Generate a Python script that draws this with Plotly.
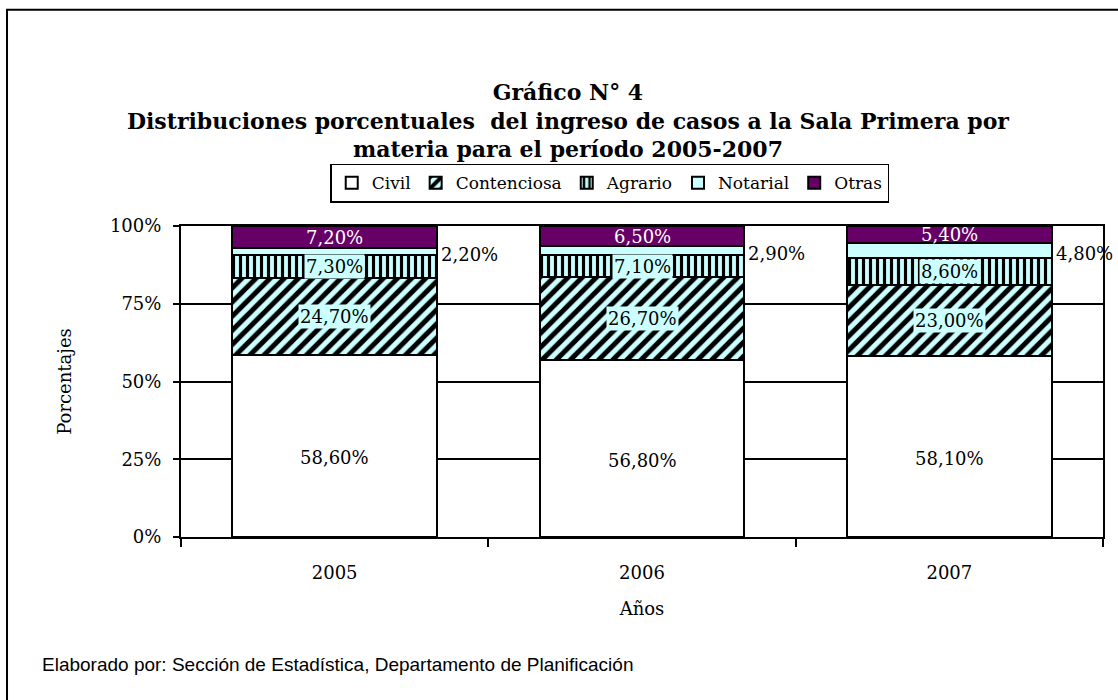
import plotly.graph_objects as go

# Datos del gráfico (porcentajes)
years = ["2005", "2006", "2007"]
civil = [58.6, 56.8, 58.1]
contenciosa = [24.7, 26.7, 23.0]
agrario = [7.3, 7.1, 8.6]
notarial = [2.2, 2.9, 4.8]
otras = [7.2, 6.5, 5.4]

y_ticks = [0, 25, 50, 75, 100]
y_ticktext = ["0%", "25%", "50%", "75%", "100%"]

serif = "DejaVu Serif, serif"
cyan = "#CCFFFF"
purple = "#660066"


def pct(v):
  return "{:.2f}%".format(v).replace(".", ",")


fig = go.Figure()
outline = dict(color="black", width=2)

fig.add_trace(go.Bar(x=years, y=civil, name="Civil",
    marker=dict(color="white", line=outline)))
fig.add_trace(go.Bar(x=years, y=contenciosa, name="Contenciosa",
    marker=dict(color=cyan, line=outline,
                pattern=dict(shape="/", fgcolor="black", fgopacity=1, bgcolor=cyan, size=10, solidity=0.5))))
fig.add_trace(go.Bar(x=years, y=agrario, name="Agrario",
    marker=dict(color=cyan, line=outline,
                pattern=dict(shape="|", fgcolor="black", fgopacity=1, bgcolor=cyan, size=7, solidity=0.45))))
fig.add_trace(go.Bar(x=years, y=notarial, name="Notarial",
    marker=dict(color=cyan, line=outline)))
fig.add_trace(go.Bar(x=years, y=otras, name="Otras",
    marker=dict(color=purple, line=outline)))

# Etiquetas de datos (x numérico = posición de la categoría)
annotations = []
lab_font = dict(family=serif, size=18, color="black")
for i, yr in enumerate(years):
  b0 = civil[i]
  b1 = b0 + contenciosa[i]
  b2 = b1 + agrario[i]
  b3 = b2 + notarial[i]
  annotations.append(dict(xref="x", yref="y", x=i, y=civil[i] / 2, text=pct(civil[i]),
      showarrow=False, font=lab_font, yshift=-12))
  annotations.append(dict(xref="x", yref="y", x=i, y=b0 + contenciosa[i] / 2, text=pct(contenciosa[i]),
      showarrow=False, font=lab_font, bgcolor=cyan))
  annotations.append(dict(xref="x", yref="y", x=i, y=b1 + agrario[i] / 2, text=pct(agrario[i]),
      showarrow=False, font=lab_font, bgcolor=cyan))
  annotations.append(dict(xref="x", yref="y", x=i + 0.34, y=b2 + notarial[i] / 2, text=pct(notarial[i]),
      showarrow=False, font=lab_font, xanchor="left", yshift=-3))
  annotations.append(dict(xref="x", yref="y", x=i, y=b3 + otras[i] / 2, text=pct(otras[i]),
      showarrow=False, font=dict(family=serif, size=18, color="white")))

annotations.append(dict(xref="paper", yref="paper", x=-0.153, y=-0.41, xanchor="left", yanchor="middle",
    text="Elaborado por: Sección de Estadística, Departamento de Planificación", showarrow=False,
    font=dict(family="Liberation Sans, Arial, sans-serif", size=19, color="black")))

fig.update_layout(
    barmode="stack",
    bargap=0.335,
    width=1118, height=700,
    margin=dict(l=181, r=15, t=226, b=163, autoexpand=False),
    paper_bgcolor="white", plot_bgcolor="white",
    font=dict(family=serif, size=18, color="black"),
    title=dict(text="<b>Gráfico N° 4<br>Distribuciones porcentuales  del ingreso de casos a la Sala Primera por"
                    "<br>materia para el período 2005-2007</b>",
               x=0.508, xanchor="center", y=0.857, yanchor="bottom", yref="container",
               font=dict(family=serif, size=22, color="black")),
    legend=dict(orientation="h", x=0.465, xanchor="center", y=1.2, yanchor="top",
                traceorder="normal", bordercolor="black", borderwidth=1.5, bgcolor="white",
                font=dict(family=serif, size=17), itemwidth=30),
    annotations=annotations,
    shapes=[dict(type="rect", xref="paper", yref="paper", x0=-0.1887, x1=1.03, y0=-0.6, y1=1.695,
                 line=dict(color="black", width=2), layer="below")],
)

fig.update_xaxes(type="category", range=[-0.5, 2.5], autorange=False,
    title=dict(text="Años", standoff=21, font=dict(size=18)),
    showline=True, linecolor="black", linewidth=2, mirror=True,
    ticks="outside", tickson="boundaries", ticklen=8, tickcolor="black", tickwidth=2,
    ticklabelstandoff=18, showgrid=False)
fig.update_yaxes(title=dict(text="Porcentajes", standoff=34, font=dict(size=18)),
    range=[0, 100], autorange=False, tickvals=y_ticks, ticktext=y_ticktext,
    showline=True, linecolor="black", linewidth=2, mirror=True,
    ticks="outside", ticklen=6, tickcolor="black", tickwidth=2, ticklabelstandoff=8,
    showgrid=True, gridcolor="black", gridwidth=1.5, zeroline=False)

fig.write_html("out.html", config={"displayModeBar": False},
               post_script="document.body.style.margin='0';")
